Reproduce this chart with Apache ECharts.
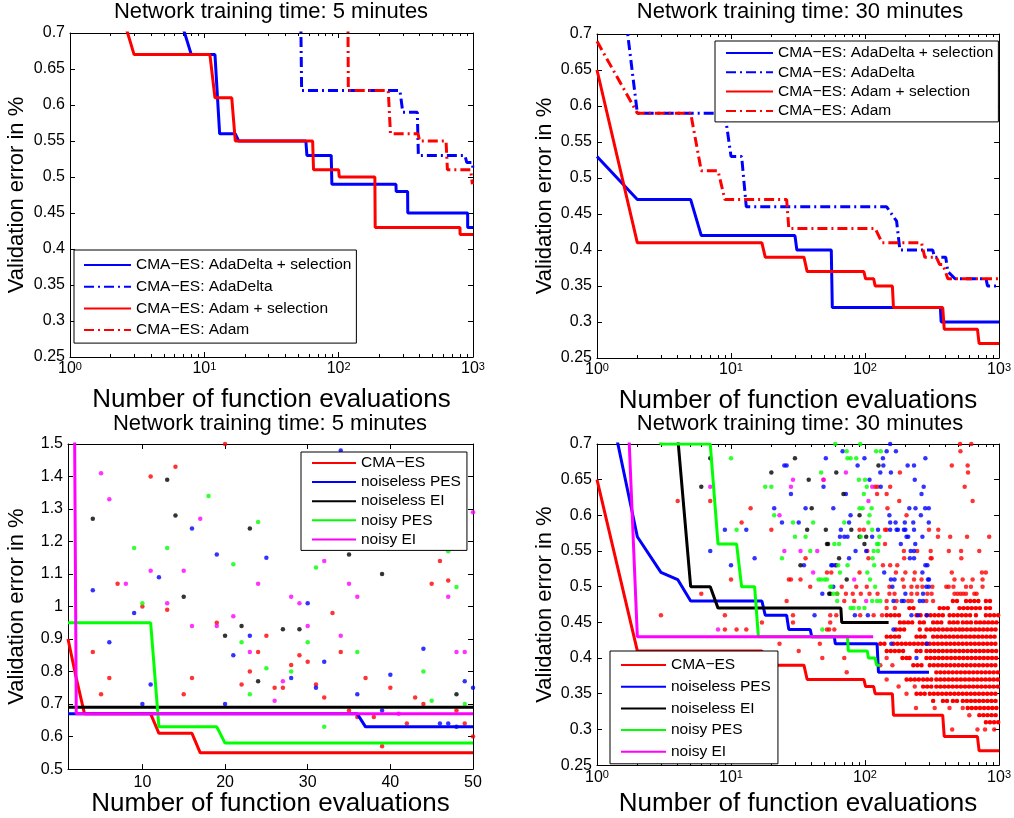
<!DOCTYPE html>
<html lang="en">
<head>
<meta charset="utf-8">
<title>Validation error vs function evaluations</title>
<script src="https://cdn.jsdelivr.net/npm/echarts@6/dist/echarts.min.js"></script>
<style>
  html, body { margin: 0; padding: 0; background: #fff; }
  #main { width: 1014px; height: 818px; }
</style>
</head>
<body>
<div id="main"></div>
<script>
var FONT = '"Liberation Sans", Arial, Helvetica, sans-serif';
var RED = '#ff0000', BLUE = '#0000ff', BLACK = '#000000', GREEN = '#00ff00', MAGENTA = '#ff00ff';

// ticks
var logMajorTicks = [1, 10, 100, 1000];
var logMinorTicks = [2, 3, 4, 5, 6, 7, 8, 9, 20, 30, 40, 50, 60, 70, 80, 90,
                     200, 300, 400, 500, 600, 700, 800, 900];
var linXTicks = [10, 20, 30, 40, 50];

var titles = ['Network training time: 5 minutes', 'Network training time: 30 minutes',
              'Network training time: 5 minutes', 'Network training time: 30 minutes'];
var xName = 'Number of function evaluations';
var yName = 'Validation error in %';

var namesTop = ['CMA\u2212ES: AdaDelta + selection', 'CMA\u2212ES: AdaDelta',
                'CMA\u2212ES: Adam + selection', 'CMA\u2212ES: Adam'];
var namesBottom = ['CMA\u2212ES', 'noiseless PES', 'noiseless EI', 'noisy PES', 'noisy EI'];

// top left, 5 minutes  [evaluations, error]
var tlAdaDeltaSel = [[7,0.705],[8,0.67],[12,0.67],[13,0.56],[17,0.56],[18,0.55],[57,0.55],[58,0.53],
  [88,0.53],[89,0.49],[267,0.49],[268,0.48],[326,0.48],[327,0.45],[912,0.45],[913,0.43],[1000,0.43]];
var tlAdaDelta = [[52,0.75],[53,0.62],[286,0.62],[300,0.59],[385,0.59],[392,0.53],[870,0.53],
  [900,0.52],[990,0.52],[1000,0.51]];
var tlAdamSel = [[2,0.78],[3,0.67],[11,0.67],[12,0.61],[16,0.61],[17,0.55],[64,0.55],[65,0.51],
  [100,0.51],[101,0.50],[186,0.50],[187,0.43],[800,0.43],[801,0.42],[1000,0.42]];
var tlAdam = [[117,0.75],[118,0.62],[234,0.62],[243,0.56],[390,0.56],[400,0.55],[630,0.55],
  [645,0.51],[960,0.51],[990,0.49],[1000,0.49]];

// top right, 30 minutes
var trAdaDeltaSel = [[1,0.53],[2,0.47],[5,0.47],[6,0.42],[30,0.42],[31,0.40],[56,0.40],[57,0.32],
  [365,0.32],[370,0.30],[1000,0.30]];
var trAdaDelta = [[1,1.05],[2,0.59],[9,0.59],[10,0.53],[12,0.53],[13,0.46],[145,0.46],[172,0.44],
  [176,0.44],[182,0.40],[320,0.40],[330,0.39],[400,0.39],[415,0.37],[470,0.36],[800,0.36],
  [820,0.35],[1000,0.35]];
var trAdamSel = [[1,0.65],[2,0.41],[17,0.41],[18,0.39],[35,0.39],[37,0.37],[98,0.37],[101,0.36],
  [116,0.36],[119,0.35],[160,0.35],[163,0.32],[380,0.32],[390,0.29],[690,0.29],[710,0.27],[1000,0.27]];
var trAdam = [[1,0.69],[2,0.59],[5,0.59],[6,0.51],[8,0.51],[9,0.47],[26,0.47],[27,0.43],[119,0.43],
  [134,0.41],[264,0.41],[279,0.39],[340,0.39],[360,0.38],[381,0.38],[415,0.36],[1000,0.36]];

// bottom left, 5 minutes: best so far
var blCmaEs = [[1,0.90],[2,0.78],[3,0.67],[11,0.67],[12,0.61],[16,0.61],[17,0.55],[50,0.55]];
var blNoiselessPes = [[1,0.67],[36,0.67],[37,0.63],[50,0.63]];
var blNoiselessEi = [[1,0.69],[50,0.69]];
var blNoisyPes = [[1,0.95],[11,0.95],[12,0.63],[19,0.63],[20,0.58],[50,0.58]];
var blNoisyEi = [[1,5],[2,0.67],[50,0.67]];

// bottom left, single evaluations
var blDotsRed = [[4,0.86],[5,0.73],[6,0.78],[7,1.07],[10,1.00],[11,1.40],[13,0.99],[14,1.43],[15,0.73],
  [16,0.78],[19,0.95],[20,1.50],[22,0.76],[23,0.80],[24,0.86],[25,0.91],[26,0.75],[27,0.75],[28,0.82],
  [29,0.85],[30,0.83],[31,0.76],[32,0.72],[33,0.98],[34,0.86],[35,0.68],[36,0.66],[37,0.78],[38,0.66],
  [39,0.57],[40,0.75],[42,0.64],[43,0.72],[44,0.70],[45,1.07],[46,1.14],[47,1.08],[48,0.68],[49,0.64],
  [50,0.60]];
var blDotsBlue = [[4,1.05],[6,0.89],[9,0.98],[10,0.70],[11,0.76],[12,1.09],[16,1.24],[19,1.16],[20,0.70],
  [21,0.85],[23,0.91],[25,1.15],[28,0.78],[30,1.01],[31,0.75],[32,0.83],[34,1.48],[36,0.73],[39,0.68],
  [40,0.79],[44,0.87],[46,0.64],[47,0.64],[48,0.63],[49,0.77],[50,0.75]];
var blDotsBlack = [[4,1.27],[13,1.39],[14,1.28],[15,1.03],[20,0.91],[22,0.94],[23,1.24],[24,0.77],
  [27,0.93],[29,0.93],[35,1.16],[39,1.10],[48,0.73]];
var blDotsGreen = [[9,1.18],[10,1.01],[13,1.18],[18,1.34],[21,1.13],[22,0.89],[23,0.73],[24,1.26],
  [25,0.81],[28,0.80],[30,0.89],[31,1.12],[32,0.63],[36,0.86],[44,0.80],[45,0.71],[47,1.17],[48,1.06],
  [49,0.70]];
var blDotsMagenta = [[5,1.41],[6,1.33],[8,1.07],[11,1.11],[13,1.01],[15,1.11],[16,0.94],[17,1.27],
  [19,0.94],[21,0.97],[23,0.86],[24,1.07],[26,0.71],[27,0.77],[28,1.03],[29,1.01],[30,0.94],[32,1.14],
  [34,0.91],[35,1.07],[36,1.03],[41,0.67],[47,1.03],[48,0.86],[49,0.86],[50,1.29]];

// bottom right, 30 minutes: best so far
var brCmaEs = [[1,0.65],[2,0.41],[17,0.41],[18,0.39],[35,0.39],[37,0.37],[98,0.37],[101,0.36],
  [116,0.36],[119,0.35],[160,0.35],[163,0.32],[380,0.32],[390,0.29],[690,0.29],[710,0.27],[1000,0.27]];
var brNoiselessPes = [[1,0.84],[2,0.57],[3,0.52],[4,0.51],[5,0.48],[17,0.48],[18,0.46],[26,0.46],
  [27,0.44],[39,0.44],[40,0.43],[59,0.43],[60,0.42],[123,0.42],[126,0.38],[300,0.38]];
var brNoiselessEi = [[3,0.9],[4,0.71],[5,0.50],[7,0.50],[8,0.47],[66,0.47],[67,0.45],[150,0.45]];
var brNoisyPes = [[2,0.8],[3,0.70],[7,0.70],[8,0.56],[11,0.56],[12,0.50],[15,0.50],[16,0.43],
  [74,0.43],[75,0.41],[104,0.41],[106,0.40],[119,0.40],[122,0.39],[130,0.39]];
var brNoisyEi = [[1,1.78],[2,0.43],[115,0.43]];

// bottom right, single evaluations
var brDotsRed = [[3,0.46],[4,0.62],[7,0.62],[6,0.49],[10,0.51],[12,0.59],[14,0.61],[9,0.44],[11,0.44],
  [13,0.44],[9,0.46],[20,0.58],[26,0.48],[27,0.51],[28,0.51],[33,0.51],[36,0.54],[39,0.50],[49,0.65],
  [52,0.52],[56,0.52],[61,0.53],[29,0.46],[55,0.46],[61,0.46],[17,0.45],[29,0.45],[55,0.45],[52,0.44],
  [54,0.44],[59,0.44],[23,0.42],[32,0.41],[46,0.42],[48,0.40],[70,0.40],[73,0.38],
  [512,0.70],[621,0.70],[515,0.69],[444,0.67],[583,0.67],[182,0.66],[587,0.66],[119,0.64],[124,0.64],
  [154,0.64],[554,0.64],[123,0.63],[145,0.63],[180,0.62],[635,0.62],[147,0.61],[204,0.60],
  [91,0.58],[98,0.58],[141,0.58],[145,0.58],[300,0.58],[352,0.58],[350,0.57],[432,0.57],[577,0.57],
  [844,0.57],[141,0.56],[104,0.55],[195,0.55],[245,0.55],[309,0.55],[422,0.55],[521,0.55],[712,0.55],
  [106,0.54],[196,0.54],[309,0.54],[314,0.54],[523,0.54],[136,0.53],[154,0.53],[174,0.53],
  [91,0.52],[170,0.52],[200,0.52],[235,0.52],[444,0.52],[745,0.52],[797,0.52],
  [191,0.51],[232,0.51],[264,0.51],[465,0.51],[535,0.51],[635,0.51],[753,0.51],
  [67,0.50],[86,0.50],[103,0.50],[152,0.50],[195,0.50],[222,0.50],[245,0.50],[268,0.50],[318,0.50],
  [404,0.50],[421,0.50],[457,0.50],[567,0.50],[617,0.50],[753,0.50],
  [62,0.49],[72,0.49],[81,0.49],[93,0.49],[108,0.49],[124,0.49],[152,0.49],[166,0.49],[222,0.49],
  [245,0.49],[292,0.49],[314,0.49],[465,0.49],[490,0.49],[515,0.49],[540,0.49],[567,0.49],[654,0.49],
  [680,0.49],[70,0.48],[83,0.48],[145,0.48],[172,0.48],[210,0.48],[223,0.48],[287,0.48],[322,0.48],
  [145,0.47],[167,0.47],[92,0.46],[116,0.46],[134,0.46],[145,0.40],[130,0.39],[160,0.39],[145,0.37],
  [178,0.36],[235,0.36],[204,0.35],[240,0.33],[331,0.33],[427,0.33],[536,0.33],[600,0.32],
  [447,0.30],[690,0.30],[786,0.30],[920,0.30]];
// dense rows of CMA-ES evaluations: [error, first evaluation, last evaluation]
var brRedRuns = [
  [0.48,452,506],[0.48,567,712],[0.48,797,893],
  [0.47,214,243],[0.47,360,440],[0.47,506,753],[0.47,797,893],
  [0.46,145,182],[0.46,242,271],[0.46,287,404],[0.46,427,635],[0.46,672,712],[0.46,797,990],
  [0.45,182,229],[0.45,256,287],[0.45,322,381],[0.45,427,506],[0.45,536,635],[0.45,672,990],
  [0.44,170,204],[0.44,256,271],[0.44,287,360],[0.44,381,506],[0.44,536,990],
  [0.43,145,182],[0.43,242,287],[0.43,322,990],
  [0.42,130,145],[0.42,163,287],[0.42,304,990],
  [0.41,145,204],[0.41,242,271],[0.41,287,990],
  [0.40,190,204],[0.40,215,229],[0.40,287,990],
  [0.39,229,271],[0.39,304,990],
  [0.38,340,990],
  [0.37,204,256],[0.37,271,322],[0.37,340,990],
  [0.36,271,322],[0.36,340,990],
  [0.35,242,287],[0.35,304,990],
  [0.34,322,340],[0.34,381,427],[0.34,452,506],[0.34,536,990],
  [0.33,583,990],
  [0.32,712,990],
  [0.31,797,990]
];
var brDotsBlue = [[51,0.68],[25,0.67],[26,0.67],[49,0.64],[28,0.63],[21,0.61],[36,0.61],[58,0.61],
  [24,0.59],[32,0.59],[9,0.58],[13,0.58],[7,0.55],[15,0.54],[10,0.53],[35,0.53],[57,0.53],[48,0.49],
  [42,0.46],[154,0.70],[68,0.69],[145,0.69],[170,0.69],[99,0.68],[136,0.68],[282,0.68],[88,0.67],
  [137,0.67],[208,0.67],[232,0.67],[130,0.66],[156,0.66],[108,0.65],[235,0.65],[131,0.64],[274,0.64],
  [72,0.63],[264,0.63],[214,0.61],[238,0.61],[281,0.61],[299,0.61],[78,0.60],[152,0.60],[261,0.60],
  [76,0.59],[154,0.59],[169,0.59],[198,0.59],[229,0.59],[299,0.59],[66,0.58],[125,0.58],[154,0.58],
  [172,0.58],[176,0.58],[195,0.58],[200,0.58],[232,0.58],[65,0.57],[70,0.57],[74,0.57],[113,0.57],
  [204,0.57],[210,0.57],[268,0.57],[185,0.56],[237,0.56],[85,0.55],[102,0.55],[219,0.55],[232,0.55],
  [76,0.54],[216,0.54],[232,0.54],[56,0.53],[60,0.53],[282,0.53],[292,0.53],[139,0.52],[268,0.52],
  [156,0.51],[166,0.51],[295,0.51],[300,0.51],[58,0.50],[160,0.50],[287,0.50],[299,0.50],[200,0.49],
  [271,0.49],[163,0.48],[188,0.48],[195,0.48],[256,0.48],[271,0.48],[84,0.46],[105,0.46],[222,0.46],
  [249,0.46],[290,0.46],[163,0.44],[157,0.42],[290,0.42],[242,0.40]];
var brDotsBlack = [[7,0.68],[30,0.68],[20,0.66],[38,0.65],[6,0.64],[40,0.61],[37,0.58],[51,0.58],
  [52,0.56],[33,0.53],[54,0.49],[126,0.67],[61,0.66],[69,0.63],[91,0.60],[79,0.58],[91,0.57],
  [102,0.57],[53,0.56],[99,0.56],[64,0.54],[73,0.51],[55,0.49]];
var brDotsGreen = [[10,0.68],[47,0.66],[18,0.64],[20,0.64],[21,0.60],[29,0.59],[41,0.59],[11,0.58],
  [30,0.57],[36,0.57],[59,0.56],[39,0.55],[24,0.54],[45,0.51],[47,0.51],[50,0.51],[56,0.50],[58,0.49],
  [60,0.70],[92,0.70],[73,0.69],[121,0.69],[131,0.69],[74,0.68],[78,0.68],[86,0.68],[90,0.65],
  [100,0.65],[103,0.64],[98,0.63],[91,0.61],[96,0.61],[112,0.61],[108,0.60],[70,0.59],[106,0.59],
  [113,0.58],[93,0.57],[128,0.57],[64,0.56],[123,0.56],[126,0.56],[116,0.55],[125,0.55],[114,0.54],
  [63,0.53],[74,0.53],[117,0.53],[65,0.52],[104,0.52],[52,0.51],[109,0.51],[55,0.50],[119,0.50],
  [62,0.49],[78,0.47],[82,0.47],[90,0.47],[99,0.47],[62,0.48],[113,0.48],[123,0.48],[130,0.48],
  [48,0.44]];
var brDotsMagenta = [[29,0.65],[49,0.65],[7,0.64],[28,0.64],[23,0.60],[25,0.55],[33,0.55],[44,0.55],
  [41,0.52],[72,0.66],[113,0.64],[106,0.62],[83,0.51],[102,0.48],[8,0.44]];

var chart = echarts.init(document.getElementById('main'), null, { renderer: 'canvas' });

var grids = [
  { left: 70, top: 33, width: 403, height: 324 },
  { left: 597, top: 34, width: 406, height: 324 },
  { left: 68, top: 444, width: 405, height: 329 },
  { left: 597, top: 444, width: 406, height: 324 }
];

var blackLine = { show: true, lineStyle: { color: '#000', width: 1 } };
var xNameStyle = { fontSize: 26, color: '#000', fontFamily: FONT };
var yNameStyle = { fontSize: 22, color: '#000', fontFamily: FONT };
var labelStyle = { fontSize: 16, color: '#000', fontFamily: FONT };

function tick(len, values) {
  return { show: true, inside: true, length: len, customValues: values,
           lineStyle: { color: '#000', width: 1 } };
}

var powRich = {
  b: { fontSize: 16, color: '#000', fontFamily: FONT, lineHeight: 16, verticalAlign: 'bottom' },
  s: { fontSize: 11, color: '#000', fontFamily: FONT, lineHeight: 11, verticalAlign: 'top',
       padding: [0, 0, 10, 0] }
};

var xAxes = [], yAxes = [];

function addLogX(g, gap) {
  var first = xAxes.length;
  var base = { type: 'log', logBase: 10, min: 1, max: 1000, gridIndex: g,
               splitLine: { show: false }, axisLine: { show: false },
               axisLabel: { show: false }, axisTick: { show: false } };
  xAxes.push(Object.assign({}, base, {
    position: 'bottom', axisLine: blackLine, axisTick: tick(5, logMajorTicks),
    axisLabel: { show: true, customValues: logMajorTicks, margin: 4, rich: powRich,
      formatter: function (v) { return '{b|10}{s|' + Math.round(Math.log10(v)) + '}'; } },
    name: xName, nameLocation: 'middle', nameGap: gap, nameTextStyle: xNameStyle
  }));
  xAxes.push(Object.assign({}, base, { position: 'bottom', axisTick: tick(3, logMinorTicks) }));
  xAxes.push(Object.assign({}, base, { position: 'top', axisLine: blackLine, axisTick: tick(5, logMajorTicks) }));
  xAxes.push(Object.assign({}, base, { position: 'top', axisTick: tick(3, logMinorTicks) }));
  return first;
}

function addLinX(g, gap) {
  var first = xAxes.length;
  var base = { type: 'value', min: 1, max: 50, gridIndex: g, splitLine: { show: false },
               axisLine: blackLine, axisLabel: { show: false }, axisTick: tick(5, linXTicks) };
  xAxes.push(Object.assign({}, base, {
    position: 'bottom',
    axisLabel: Object.assign({ show: true, customValues: linXTicks, margin: 5 }, labelStyle),
    name: xName, nameLocation: 'middle', nameGap: gap, nameTextStyle: xNameStyle
  }));
  xAxes.push(Object.assign({}, base, { position: 'top' }));
  return first;
}

function addY(g, min, max, step, gap) {
  var first = yAxes.length;
  var base = { type: 'value', gridIndex: g, min: min, max: max, interval: step,
               splitLine: { show: false }, axisLine: blackLine,
               axisTick: { show: true, inside: true, length: 5, lineStyle: { color: '#000', width: 1 } } };
  yAxes.push(Object.assign({}, base, {
    position: 'left',
    axisLabel: Object.assign({ show: true, margin: 5 }, labelStyle),
    name: yName, nameLocation: 'middle', nameGap: gap, nameTextStyle: yNameStyle
  }));
  yAxes.push(Object.assign({}, base, { position: 'right', axisLabel: { show: false } }));
  return first;
}

var ax = [
  { x: addLogX(0, 30), y: addY(0, 0.25, 0.7, 0.05, 42) },
  { x: addLogX(1, 30), y: addY(1, 0.25, 0.7, 0.05, 41) },
  { x: addLinX(2, 19), y: addY(2, 0.5, 1.5, 0.1, 40) },
  { x: addLogX(3, 25), y: addY(3, 0.25, 0.7, 0.05, 41) }
];

var DASHDOT = [10, 4, 2, 4];

function lineSeries(name, data, color, dashed, p) {
  return { type: 'line', name: name, data: data, xAxisIndex: ax[p].x, yAxisIndex: ax[p].y,
           symbol: 'none', showSymbol: false, silent: true, z: 3,
           lineStyle: { color: color, width: 3, type: dashed ? DASHDOT : 'solid' },
           itemStyle: { color: color } };
}

function dotSeries(data, color, p) {
  return { type: 'scatter', data: data, xAxisIndex: ax[p].x, yAxisIndex: ax[p].y,
           symbol: 'circle', symbolSize: 4.5, silent: true, z: 1,
           itemStyle: { color: color } };
}

function runSeries(runs, color, p) {
  var d = [];
  runs.forEach(function (r) {
    d.push([r[1], r[0]], [r[2], r[0]], [r[2], '-']);
  });
  return { type: 'line', data: d, xAxisIndex: ax[p].x, yAxisIndex: ax[p].y,
           symbol: 'none', showSymbol: false, silent: true, z: 1, connectNulls: false,
           lineStyle: { color: color, width: 4.4, type: [0.1, 4.0], cap: 'round' } };
}

var series = [
  lineSeries(namesTop[0], tlAdaDeltaSel, BLUE, false, 0),
  lineSeries(namesTop[1], tlAdaDelta, BLUE, true, 0),
  lineSeries(namesTop[2], tlAdamSel, RED, false, 0),
  lineSeries(namesTop[3], tlAdam, RED, true, 0),

  lineSeries(namesTop[0], trAdaDeltaSel, BLUE, false, 1),
  lineSeries(namesTop[1], trAdaDelta, BLUE, true, 1),
  lineSeries(namesTop[2], trAdamSel, RED, false, 1),
  lineSeries(namesTop[3], trAdam, RED, true, 1),

  dotSeries(blDotsRed, RED, 2),
  dotSeries(blDotsBlue, BLUE, 2),
  dotSeries(blDotsBlack, BLACK, 2),
  dotSeries(blDotsGreen, GREEN, 2),
  dotSeries(blDotsMagenta, MAGENTA, 2),
  lineSeries(namesBottom[0], blCmaEs, RED, false, 2),
  lineSeries(namesBottom[1], blNoiselessPes, BLUE, false, 2),
  lineSeries(namesBottom[2], blNoiselessEi, BLACK, false, 2),
  lineSeries(namesBottom[3], blNoisyPes, GREEN, false, 2),
  lineSeries(namesBottom[4], blNoisyEi, MAGENTA, false, 2),

  runSeries(brRedRuns, RED, 3),
  dotSeries(brDotsRed, RED, 3),
  dotSeries(brDotsBlue, BLUE, 3),
  dotSeries(brDotsBlack, BLACK, 3),
  dotSeries(brDotsGreen, GREEN, 3),
  dotSeries(brDotsMagenta, MAGENTA, 3),
  lineSeries(namesBottom[0], brCmaEs, RED, false, 3),
  lineSeries(namesBottom[1], brNoiselessPes, BLUE, false, 3),
  lineSeries(namesBottom[2], brNoiselessEi, BLACK, false, 3),
  lineSeries(namesBottom[3], brNoisyPes, GREEN, false, 3),
  lineSeries(namesBottom[4], brNoisyEi, MAGENTA, false, 3)
];

function legend(names, left, top, pad, gap, iconW) {
  return { orient: 'vertical', left: left, top: top, padding: pad, itemGap: gap,
           itemWidth: iconW, itemHeight: 14, selectedMode: false, z: 10,
           backgroundColor: '#fff', borderColor: '#000', borderWidth: 1, borderRadius: 0,
           itemStyle: { opacity: 0, borderWidth: 0 },
           textStyle: { fontSize: 15.5, lineHeight: 16, color: '#000', fontFamily: FONT },
           data: names };
}

var titleCenters = [271, 800, 270, 800];
var titleTops = [1, 1, 413, 413];

var option = {
  animation: false,
  backgroundColor: '#fff',
  title: titles.map(function (t, i) {
    return { text: t, left: titleCenters[i], top: titleTops[i], textAlign: 'center', padding: 0,
             textStyle: { fontSize: 22, fontWeight: 'normal', color: '#000', fontFamily: FONT } };
  }),
  grid: grids,
  xAxis: xAxes,
  yAxis: yAxes,
  legend: [
    legend(namesTop, 74, 250, [7, 5, 5, 9], 5.7, 47),
    legend(namesTop, 715, 41, [4, 5, 3, 10], 3.3, 47),
    legend(namesBottom, 301, 452, [3, 6, 3, 10], 3.1, 44),
    legend(namesBottom, 610, 651, [6, 7, 4, 10], 5.7, 45)
  ],
  series: series
};

chart.setOption(option);
</script>
</body>
</html>
